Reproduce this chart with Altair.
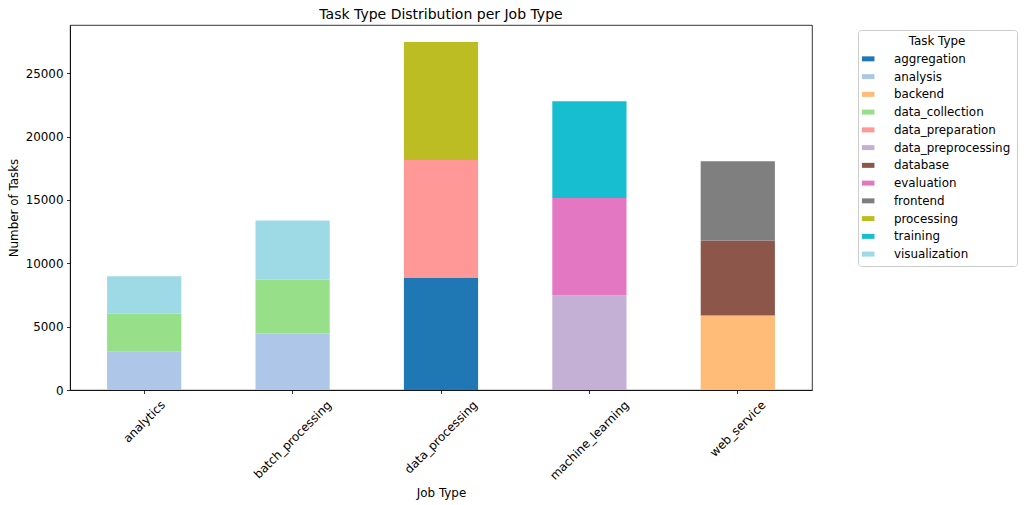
import altair as alt
import pandas as pd

job_types = ["analytics", "batch_processing", "data_processing", "machine_learning", "web_service"]
task_types = ["aggregation", "analysis", "backend", "data_collection", "data_preparation",
              "data_preprocessing", "database", "evaluation", "frontend", "processing",
              "training", "visualization"]
task_colors = ["#1f77b4", "#aec7e8", "#ffbb78", "#98df8a", "#ff9896", "#c5b0d5",
               "#8c564b", "#e377c2", "#7f7f7f", "#bcbd22", "#17becf", "#9edae5"]

analytics_tasks = ["analysis", "data_collection", "visualization"]
analytics_counts = [3020, 3010, 2940]
batch_tasks = ["analysis", "data_collection", "visualization"]
batch_counts = [4450, 4270, 4660]
dataproc_tasks = ["aggregation", "data_preparation", "processing"]
dataproc_counts = [8880, 9270, 9300]
ml_tasks = ["data_preprocessing", "evaluation", "training"]
ml_counts = [7450, 7690, 7640]
web_tasks = ["backend", "database", "frontend"]
web_counts = [5870, 5930, 6240]

groups = [
    ("analytics", analytics_tasks, analytics_counts),
    ("batch_processing", batch_tasks, batch_counts),
    ("data_processing", dataproc_tasks, dataproc_counts),
    ("machine_learning", ml_tasks, ml_counts),
    ("web_service", web_tasks, web_counts),
]
rows = []
for job, tasks, counts in groups:
    for t, c in zip(tasks, counts):
        rows.append({"job": job, "task": t, "count": c, "idx": task_types.index(t)})
df = pd.DataFrame(rows)

# per-label offset so rotated labels hang centred below the tick (like matplotlib)
label_pad = {"analytics": 27.7, "batch_processing": 45.7, "data_processing": 43.3,
             "machine_learning": 46.4, "web_service": 34.8}
pad_expr = ""
for k, v in label_pad.items():
    pad_expr += f"datum.value == '{k}' ? {v} : "
pad_expr += "40"

FONT = "DejaVu Sans"
FS = 11.9

chart = alt.Chart(df).mark_bar().encode(
    x=alt.X("job:N", sort=job_types,
            scale=alt.Scale(paddingInner=0.5, paddingOuter=0.25),
            axis=alt.Axis(title="Job Type", labelAngle=-45, labelAlign="center",
                          labelBaseline="middle", labelPadding=alt.ExprRef(expr=pad_expr),
                          labelOverlap=False, titleY=102, titleBaseline="middle")),
    y=alt.Y("count:Q", stack="zero",
            scale=alt.Scale(domain=[0, 28800], nice=False),
            axis=alt.Axis(title="Number of Tasks", values=[0, 5000, 10000, 15000, 20000, 25000],
                          format="d", titleX=-57, titleY=182.5, titleBaseline="middle",
                          titleAlign="center")),
    color=alt.Color("task:N", scale=alt.Scale(domain=task_types, range=task_colors),
                    legend=alt.Legend(title="Task Type", orient="none", legendX=788, legendY=5,
                                      strokeColor="#cccccc", fillColor="white", cornerRadius=3,
                                      padding=6, symbolType="M-1.6,-0.5H0.9V0.5H-1.6Z",
                                      symbolSize=100, symbolStrokeWidth=0, symbolOpacity=1,
                                      symbolOffset=0, labelOffset=18, rowPadding=4.75,
                                      titlePadding=5, titleAnchor="middle", titleAlign="center",
                                      titleFontWeight="normal", titleFontSize=FS,
                                      labelFontSize=FS, titleColor="black", labelColor="black",
                                      labelLimit=300)),
    order=alt.Order("idx:Q", sort="ascending"),
).properties(
    width=742, height=365,
    title=alt.Title("Task Type Distribution per Job Type", fontSize=14, fontWeight="normal",
                    color="black", anchor="middle", frame="group", baseline="alphabetic",
                    offset=7, dy=15),
    padding={"left": 70, "top": 25, "right": 212, "bottom": 115},
    autosize="none",
).configure(font=FONT).configure_view(
    stroke="black", strokeWidth=0.8
).configure_axis(
    grid=False, domainColor="black", domainWidth=0.8, tickColor="black", tickWidth=0.8,
    tickSize=3.5, labelFontSize=FS, titleFontSize=FS, titleFontWeight="normal",
    labelColor="black", titleColor="black", labelFont=FONT, titleFont=FONT
).configure_axisY(labelPadding=3.5)

chart.save("out.html", embed_options={"renderer": "svg", "actions": False})
